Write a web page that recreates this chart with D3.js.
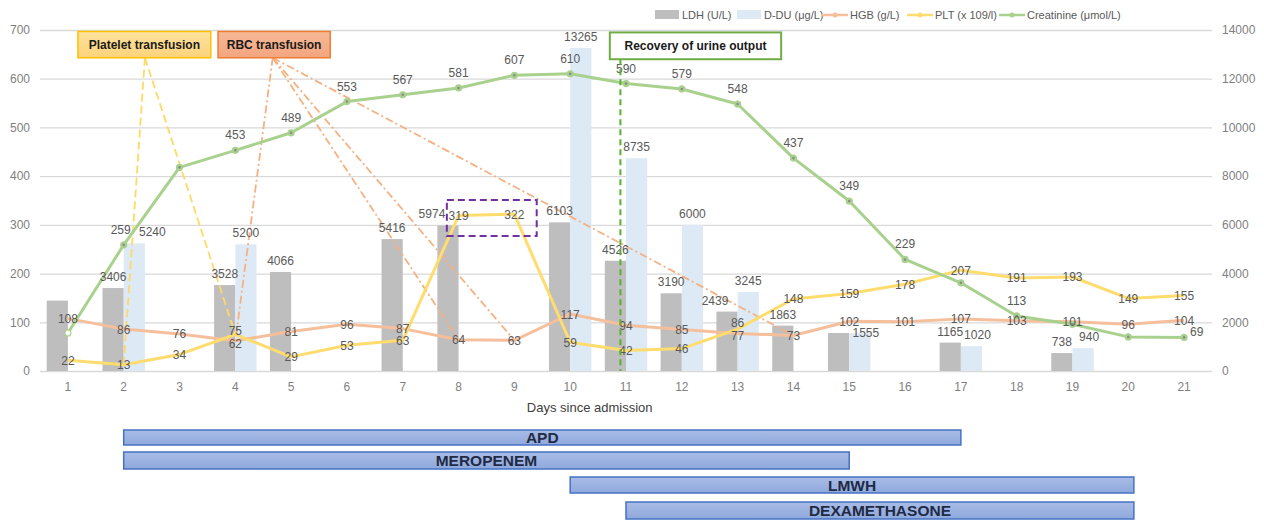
<!DOCTYPE html>
<html><head><meta charset="utf-8">
<script src="https://cdn.jsdelivr.net/npm/d3@7"></script>
<style>
body{margin:0;background:#fff;}
text{font-family:"Liberation Sans",Arial,sans-serif;}
</style></head>
<body><svg id="c" width="1264" height="520"></svg>
<script>
// ---- data ----
const days = [1,2,3,4,5,6,7,8,9,10,11,12,13,14,15,16,17,18,19,20,21];
const ldh = [2890,3406,null,3528,4066,null,5416,5974,null,6103,4526,3190,2439,1863,1560,null,1165,null,738,null,null];
const ldhNoLabel = [1,15];
const ddu = [null,5240,null,5200,null,null,null,null,null,13265,8735,6000,3245,null,1555,null,1020,null,940,null,null];
const hgb = [108,86,76,62,81,96,87,64,63,117,94,85,77,73,102,101,107,103,101,96,104];
const plt = [22,13,34,75,29,53,63,319,322,59,42,46,86,148,159,178,207,191,193,149,155];
const creat = [78,259,418,453,489,553,567,581,607,610,590,579,548,437,349,229,181,113,96,70,69];
const creatNoLabel = [1,3,17,19,20];
const leftTicks = [0,100,200,300,400,500,600,700];
const rightTicks = [0,2000,4000,6000,8000,10000,12000,14000];
const legendNames = ["LDH (U/L)","D-DU (\u03bcg/L)","HGB (g/L)","PLT (x 109/l)","Creatinine (\u03bcmol/L)"];
const xTitle = "Days since admission";
const plateletDays = [2,4];          // PLT transfusion targets
const rbcDays = [4,8,9,14];          // RBC transfusion targets
const urineDay = 10.9;
const drugs = ["APD","MEROPENEM","LMWH","DEXAMETHASONE"];
const drugStart = [2,2,10,11];
const drugEnd = [17,15,20.1,20.1];

// ---- scales ----
const svg = d3.select("#c");
const x = d3.scaleBand().domain(days).range([40,1212]);
const bw = x.bandwidth();
const xc = d => x(d) + bw/2;
const xLin = d3.scaleLinear().domain([0.5,21.5]).range([40,1212]);
const yL = d3.scaleLinear().domain([0,700]).range([371,30]);
const yR = d3.scaleLinear().domain([0,14000]).range([371,30]);
const labelColor = "#595959";

// gridlines
const grid = svg.append("g").attr("transform","translate(40,0)")
  .call(d3.axisLeft(yL).tickValues(leftTicks).tickSize(-1172).tickFormat(""));
grid.select(".domain").remove();
grid.selectAll("line").attr("stroke","#d9d9d9").attr("stroke-width",1.3);

// axes
const ax1 = svg.append("g").attr("transform","translate(40,0)")
  .call(d3.axisLeft(yL).tickValues(leftTicks).tickSize(0).tickPadding(10));
const ax2 = svg.append("g").attr("transform","translate(1212,0)")
  .call(d3.axisRight(yR).tickValues(rightTicks).tickSize(0).tickPadding(10).tickFormat(d3.format("d")));
const ax3 = svg.append("g").attr("transform","translate(0,371)")
  .call(d3.axisBottom(x).tickSize(0).tickPadding(11));
[ax1,ax2,ax3].forEach(a=>{a.select(".domain").remove();
  a.selectAll("text").attr("fill","#7f7f7f").style("font-size","12px").style("font-family","Liberation Sans, Arial, sans-serif");});
svg.append("text").attr("x",xLin(10.35)).attr("y",412).attr("text-anchor","middle")
  .attr("fill","#404040").style("font-size","13px").text(xTitle);

// bars
const barW = bw*0.38;
const ldhD = days.map((d,i)=>({d,v:ldh[i]})).filter(o=>o.v!=null);
const dduD = days.map((d,i)=>({d,v:ddu[i]})).filter(o=>o.v!=null);
svg.append("g").selectAll("rect").data(ldhD).join("rect")
  .attr("x",o=>xc(o.d)-barW).attr("width",barW)
  .attr("y",o=>yR(o.v)).attr("height",o=>yR(0)-yR(o.v)).attr("fill","#bfbebe");
svg.append("g").selectAll("rect").data(dduD).join("rect")
  .attr("x",o=>xc(o.d)).attr("width",barW)
  .attr("y",o=>yR(o.v)).attr("height",o=>yR(0)-yR(o.v)).attr("fill","#ddeaf6");

// transfusion connector lines
const pBox = {x0:xLin(1.18), x1:xLin(3.56), y0:yL(697), y1:yL(643)};
const rBox = {x0:xLin(3.69), x1:xLin(5.7), y0:yL(697), y1:yL(643)};
const uBox = {x0:xLin(10.71), x1:xLin(13.78), y0:yL(695), y1:yL(640)};
const pAnchor = [xLin(2.38), pBox.y1];
const rAnchor = [xLin(4.67), rBox.y1];
svg.append("g").selectAll("line").data(plateletDays).join("line")
  .attr("x1",pAnchor[0]).attr("y1",pAnchor[1])
  .attr("x2",d=>xc(d)).attr("y2",d=>yL(plt[d-1]))
  .attr("stroke","#ffd966").attr("stroke-width",1.8).attr("stroke-dasharray","8,4");
svg.append("g").selectAll("line").data(rbcDays).join("line")
  .attr("x1",rAnchor[0]).attr("y1",rAnchor[1])
  .attr("x2",d=>xc(d)).attr("y2",d=>yL(hgb[d-1]))
  .attr("stroke","#f4b183").attr("stroke-width",1.8).attr("stroke-dasharray","8,3,2,3");

// lines
function drawLine(vals,color){
  const line = d3.line().x((v,i)=>xc(days[i])).y(v=>yL(v));
  svg.append("path").datum(vals).attr("d",line).attr("fill","none")
    .attr("stroke",color).attr("stroke-width",3).attr("stroke-linejoin","round");
}
drawLine(hgb,"#f6bf9c");
drawLine(plt,"#ffdc6e");
drawLine(creat,"#a9d18e");
svg.append("g").selectAll("circle").data(creat).join("circle")
  .attr("cx",(v,i)=>xc(days[i])).attr("cy",v=>yL(v)).attr("r",3)
  .attr("fill",(v,i)=>i===0?"#ffffff":"#a9d18e").attr("stroke","#a9d18e").attr("stroke-width",1.2);
svg.append("g").selectAll("circle").data(creat).join("circle")
  .attr("cx",(v,i)=>xc(days[i])).attr("cy",v=>yL(v)).attr("r",1.3)
  .attr("fill",(v,i)=>i===0?"#ffffff":"#8c8c8c");

// data labels
const lab = svg.append("g").attr("fill",labelColor).style("font-size","12px").attr("text-anchor","middle");
ldhD.filter(o=>!ldhNoLabel.includes(o.d)).forEach(o=>{
  const dx = o.d===8 ? -16 : (o.d===13 ? -12 : 0);
  lab.append("text").attr("x",xc(o.d)-barW/2+dx).attr("y",yR(o.v)-7).text(o.v);
});
dduD.forEach(o=>{
  const shift = o.d===2 ? 18 : (o.d>=15 ? 6 : 0);
  const dy = o.d===15 ? 11 : 0;
  lab.append("text").attr("x",xc(o.d)+barW/2+shift).attr("y",yR(o.v)-7+dy).text(o.v);
});
hgb.forEach((v,i)=>{
  const dy = days[i]===4 ? 3 : (days[i]===13 ? 2.5 : 0);
  lab.append("text").attr("x",xc(days[i])).attr("y",yL(v)+4.5+dy).text(v);
});
plt.forEach((v,i)=>{
  const dy = days[i]===13 ? -7 : (days[i]===4 ? -4 : 0);
  lab.append("text").attr("x",xc(days[i])).attr("y",yL(v)+4.5+dy).text(v);
});
creat.forEach((v,i)=>{
  if(creatNoLabel.includes(days[i])) return;
  if(days[i]===21){
    lab.append("text").attr("x",xc(days[i])+6).attr("y",yL(v)-1).attr("text-anchor","start").text(v);
  } else {
    const dx = days[i]===2 ? -3 : 0;
    lab.append("text").attr("x",xc(days[i])+dx).attr("y",yL(v)-11).text(v);
  }
});

// highlight box
svg.append("rect").attr("x",xLin(7.79)).attr("y",yL(351))
  .attr("width",xLin(9.4)-xLin(7.79)).attr("height",yL(277)-yL(351))
  .attr("fill","none").attr("stroke","#7030a0").attr("stroke-width",2).attr("stroke-dasharray","7,4");

// urine output line
svg.append("line").attr("x1",xLin(urineDay)).attr("x2",xLin(urineDay))
  .attr("y1",uBox.y1).attr("y2",yL(0))
  .attr("stroke","#58b030").attr("stroke-width",2).attr("stroke-dasharray","6,4");

// annotation boxes
const defs = svg.append("defs");
function grad(id,c1,c2){
  const g = defs.append("linearGradient").attr("id",id).attr("x1",0).attr("x2",0).attr("y1",0).attr("y2",1);
  g.append("stop").attr("offset","0%").attr("stop-color",c1);
  g.append("stop").attr("offset","100%").attr("stop-color",c2);
}
grad("gp","#fee29f","#fdd37a");
grad("gr","#f6b997","#f3a57f");
grad("gd","#a9bce6","#8fa9dc");
function box(b,fill,stroke,txt,sw){
  svg.append("rect").attr("x",b.x0).attr("y",b.y0).attr("width",b.x1-b.x0).attr("height",b.y1-b.y0)
    .attr("fill",fill).attr("stroke",stroke).attr("stroke-width",sw);
  svg.append("text").attr("x",(b.x0+b.x1)/2).attr("y",(b.y0+b.y1)/2+4.5).attr("text-anchor","middle")
    .attr("fill","#1a1a1a").style("font-size","12px").style("font-weight","bold").text(txt);
}
box(pBox,"url(#gp)","#ffc000","Platelet transfusion",1.5);
box(rBox,"url(#gr)","#ed7d31","RBC transfusion",1.5);
box(uBox,"#ffffff","#70ad47","Recovery of urine output",2);

// legend
const lg = svg.append("g").style("font-size","11px").attr("fill",labelColor);
const lgX = [655,737,822,907,999];
const lgCol = ["#bfbebe","#ddeaf6","#f6bf9c","#ffdc6e","#a9d18e"];
legendNames.forEach((n,i)=>{
  if(i<2){
    lg.append("rect").attr("x",lgX[i]).attr("y",10).attr("width",24).attr("height",9).attr("fill",lgCol[i]);
  } else {
    lg.append("line").attr("x1",lgX[i]).attr("x2",lgX[i]+26).attr("y1",15).attr("y2",15)
      .attr("stroke",lgCol[i]).attr("stroke-width",2.5);
    lg.append("circle").attr("cx",lgX[i]+13).attr("cy",15).attr("r",2.5).attr("fill",lgCol[i]);
  }
  lg.append("text").attr("x",lgX[i]+(i<2?27:28)).attr("y",19).text(n);
});

// drug bars
const drugY = [430,452,477,502];
const drugH = [15,17,16,17];
drugs.forEach((n,i)=>{
  const x0 = xLin(drugStart[i]), x1 = xLin(drugEnd[i]);
  svg.append("rect").attr("x",x0).attr("y",drugY[i]).attr("width",x1-x0).attr("height",drugH[i])
    .attr("fill","url(#gd)").attr("stroke","#4472c4").attr("stroke-width",1.5);
  svg.append("text").attr("x",(x0+x1)/2).attr("y",drugY[i]+drugH[i]/2+5.5).attr("text-anchor","middle")
    .attr("fill","#1f2a44").style("font-family","'Liberation Sans Narrow','Liberation Sans',Arial,sans-serif")
    .style("font-size","15.5px").style("font-weight","bold").text(n);
});
</script></body></html>
